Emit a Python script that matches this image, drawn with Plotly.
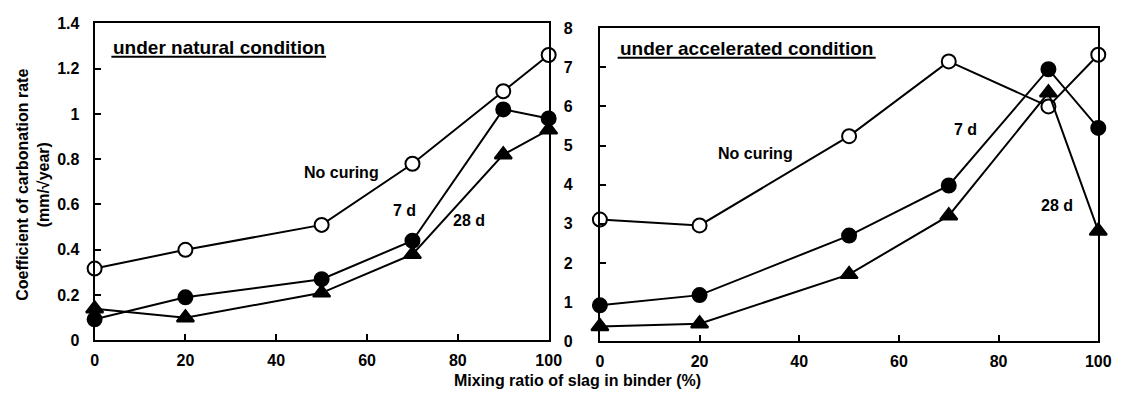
import plotly.graph_objects as go

slag = [0, 20, 50, 70, 90, 100]

nat_no_curing = [0.317, 0.40, 0.51, 0.78, 1.10, 1.26]
nat_7d = [0.093, 0.19, 0.27, 0.44, 1.02, 0.98]
nat_28d = [0.14, 0.10, 0.21, 0.38, 0.82, 0.93]

acc_no_curing = [3.11, 2.96, 5.24, 7.15, 6.0, 7.32]
acc_7d = [0.92, 1.18, 2.70, 3.98, 6.95, 5.45]
acc_28d = [0.38, 0.45, 1.71, 3.21, 6.35, 2.82]

nat_yticks = [0, 0.2, 0.4, 0.6, 0.8, 1, 1.2, 1.4]
acc_yticks = [0, 1, 2, 3, 4, 5, 6, 7, 8]
xticks = [0, 20, 40, 60, 80, 100]

FONT = "Liberation Sans"

fig = go.Figure()

def add_series(x, y, xa, ya, symbol, fill, size):
    fig.add_trace(go.Scatter(
        x=x, y=y, xaxis=xa, yaxis=ya, mode="lines+markers",
        line=dict(color="black", width=2),
        marker=dict(symbol=symbol, size=size, color=fill,
                    line=dict(color="black", width=2)),
        showlegend=False, cliponaxis=False))

add_series(slag, nat_no_curing, "x", "y", "circle", "white", 14)
add_series(slag, nat_7d, "x", "y", "circle", "black", 14)
add_series(slag, nat_28d, "x", "y", "triangle-up", "black", 15)
add_series(slag, acc_no_curing, "x2", "y2", "circle", "white", 14)
add_series(slag, acc_7d, "x2", "y2", "circle", "black", 14)
add_series(slag, acc_28d, "x2", "y2", "triangle-up", "black", 15)

W, H = 1129, 403
tick_font = dict(family=FONT, size=16, color="black", weight="bold")
axis_common = dict(showline=True, linecolor="black", linewidth=2, mirror=True,
                   ticks="inside", ticklen=6, tickwidth=1.5, tickcolor="black",
                   showgrid=False, zeroline=False, tickfont=tick_font)

fig.update_layout(
    width=W, height=H, autosize=False, margin=dict(l=0, r=0, t=0, b=0, pad=0),
    paper_bgcolor="white", plot_bgcolor="white",
    xaxis=dict(domain=[92 / W, 553 / W], range=[0, 100], tickvals=xticks,
               anchor="y", ticklabelstandoff=4, **axis_common),
    yaxis=dict(domain=[1 - 347 / H, 1 - 16 / H], range=[0, 1.4], tickvals=nat_yticks,
               ticktext=[f"{v:g}" for v in nat_yticks], anchor="x",
               ticklabelstandoff=10, **axis_common),
    xaxis2=dict(domain=[605 / W, 1111 / W], range=[0, 100], tickvals=xticks,
                anchor="y2", ticklabelstandoff=4, **axis_common),
    yaxis2=dict(domain=[1 - 348 / H, 1 - 21 / H], range=[0, 8], tickvals=acc_yticks,
                anchor="x2", ticklabelstandoff=22, **axis_common),
)

lab_font = dict(family=FONT, size=16, color="black", weight="bold")
title_font = dict(family=FONT, size=19, color="black", weight="bold")

ann = [
    dict(text="No curing", x=54.4, y=0.74, xref="x", yref="y"),
    dict(text="7 d", x=68.3, y=0.575, xref="x", yref="y"),
    dict(text="28 d", x=82.4, y=0.53, xref="x", yref="y"),
    dict(text="No curing", x=31.2, y=4.81, xref="x2", yref="y2"),
    dict(text="7 d", x=73.3, y=5.42, xref="x2", yref="y2"),
    dict(text="28 d", x=91.7, y=3.48, xref="x2", yref="y2"),
]
for a in ann:
    fig.add_annotation(showarrow=False, font=lab_font, xanchor="center",
                       yanchor="middle", **a)

fig.add_annotation(text="under natural condition", x=218 / W, y=1 - 41 / H,
                   xref="paper", yref="paper", showarrow=False, font=title_font,
                   xanchor="center", yanchor="middle")
fig.add_annotation(text="under accelerated condition", x=754 / W, y=1 - 42 / H,
                   xref="paper", yref="paper", showarrow=False, font=title_font,
                   xanchor="center", yanchor="middle")
fig.add_shape(type="line", xref="paper", yref="paper", x0=109 / W, x1=327 / W,
              y0=1 - 51 / H, y1=1 - 51 / H, line=dict(color="black", width=2))
fig.add_shape(type="line", xref="paper", yref="paper", x0=623 / W, x1=885 / W,
              y0=1 - 52 / H, y1=1 - 52 / H, line=dict(color="black", width=2))

fig.add_annotation(text="Coefficient of carbonation rate<br>(mm/√year)",
                   x=30 / W, y=1 - 185 / H, xref="paper", yref="paper",
                   textangle=-90, showarrow=False, xanchor="center", yanchor="middle",
                   font=dict(family=FONT, size=16, color="black", weight="bold"))
fig.add_annotation(text="Mixing ratio of slag in binder (%)",
                   x=582 / W, y=1 - 389 / H, xref="paper", yref="paper",
                   showarrow=False, xanchor="center", yanchor="middle",
                   font=dict(family=FONT, size=16, color="black", weight="bold"))

POST = (
    "document.documentElement.style.margin='0';"
    "document.body.style.margin='0';"
    "document.body.style.overflow='hidden';"
)

fig.write_html("out.html", config={"responsive": False, "displayModeBar": False},
               post_script=POST)
